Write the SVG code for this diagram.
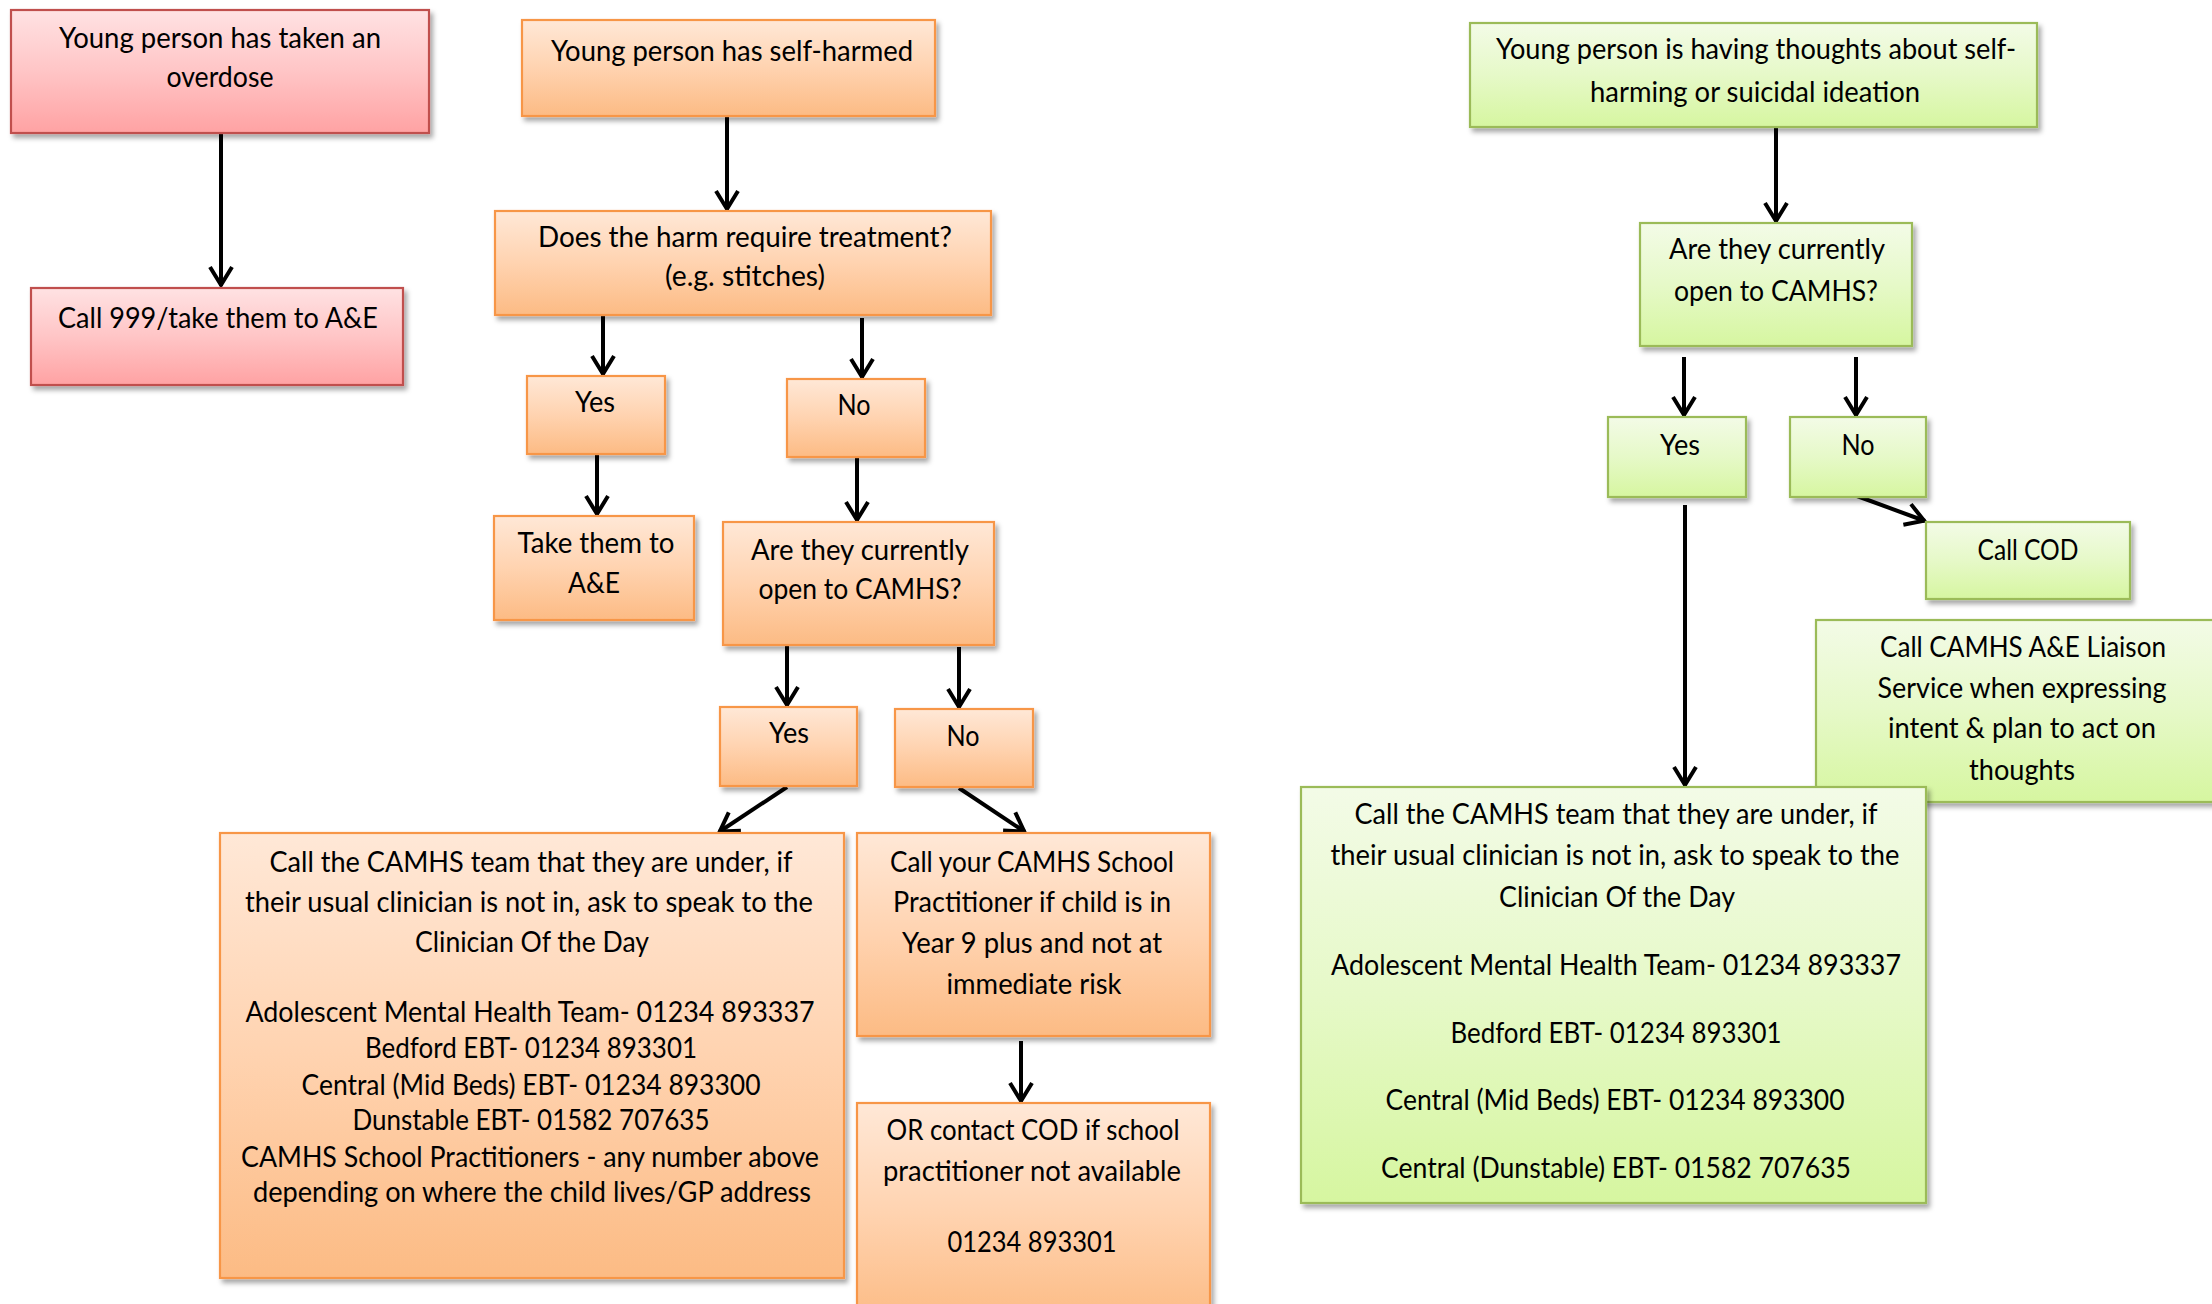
<svg xmlns="http://www.w3.org/2000/svg" width="2212" height="1304" viewBox="0 0 2212 1304">
<style>
.t{font-family:Lato,"Open Sans","Liberation Sans",sans-serif;font-size:28px;fill:#000;text-anchor:middle}
.box{filter:url(#sh);stroke-width:2.2}
.red{fill:url(#gRed);stroke:#C0504D}
.org{fill:url(#gOrg);stroke:#F79646}
.grn{fill:url(#gGrn);stroke:#9BBB59}
.c{stroke:#000;stroke-width:4;fill:none;marker-end:url(#ah)}
</style>
<defs>
<linearGradient id="gRed" x1="0" y1="0" x2="0" y2="1"><stop offset="0" stop-color="#FFE2E3"/><stop offset="0.5" stop-color="#FFC5C6"/><stop offset="1" stop-color="#FFA2A3"/></linearGradient>
<linearGradient id="gOrg" x1="0" y1="0" x2="0" y2="1"><stop offset="0" stop-color="#FFE8D7"/><stop offset="0.5" stop-color="#FFD3B0"/><stop offset="1" stop-color="#FCBB84"/></linearGradient>
<linearGradient id="gGrn" x1="0" y1="0" x2="0" y2="1"><stop offset="0" stop-color="#F3FBE7"/><stop offset="0.5" stop-color="#E6F9C8"/><stop offset="1" stop-color="#D6F6A0"/></linearGradient>
<filter id="sh" x="-5%" y="-5%" width="115%" height="120%"><feDropShadow dx="3" dy="4" stdDeviation="2.5" flood-color="#000" flood-opacity="0.35"/></filter>
<marker id="ah" viewBox="-24 -14 28 28" refX="0" refY="0" markerWidth="28" markerHeight="28" markerUnits="userSpaceOnUse" orient="auto"><path d="M-19,-11 L-1,0 L-19,11" fill="none" stroke="#000" stroke-width="4"/></marker>
</defs>

<g id="connectors">
<line class="c" x1="221" y1="133" x2="221" y2="286"/>
<line class="c" x1="727" y1="116" x2="727" y2="210"/>
<line class="c" x1="603" y1="315" x2="603" y2="375"/>
<line class="c" x1="862" y1="318" x2="862" y2="378"/>
<line class="c" x1="597" y1="455" x2="597" y2="515"/>
<line class="c" x1="857" y1="458" x2="857" y2="521"/>
<line class="c" x1="787" y1="645" x2="787" y2="706"/>
<line class="c" x1="959" y1="647" x2="959" y2="708"/>
<line class="c" x1="787" y1="787" x2="719" y2="832"/>
<line class="c" x1="959" y1="788" x2="1025" y2="832"/>
<line class="c" x1="1021" y1="1041" x2="1021" y2="1102"/>
<line class="c" x1="1776" y1="127" x2="1776" y2="222"/>
<line class="c" x1="1684" y1="357" x2="1684" y2="416"/>
<line class="c" x1="1856" y1="357" x2="1856" y2="416"/>
<line class="c" x1="1857" y1="496" x2="1925" y2="521"/>
<line class="c" x1="1685" y1="505" x2="1685" y2="786"/>
</g>

<g id="n-overdose"><rect class="box red" x="11" y="10" width="418" height="123"/>
<text class="t" x="220" y="48" textLength="322" lengthAdjust="spacingAndGlyphs">Young person has taken an</text>
<text class="t" x="220" y="87" textLength="107" lengthAdjust="spacingAndGlyphs">overdose</text></g>

<g id="n-call999"><rect class="box red" x="31" y="288" width="372" height="97"/>
<text class="t" x="218" y="328" textLength="320" lengthAdjust="spacingAndGlyphs">Call 999/take them to A&amp;E</text></g>

<g id="n-selfharmed"><rect class="box org" x="522" y="20" width="413" height="96"/>
<text class="t" x="732" y="61" textLength="362" lengthAdjust="spacingAndGlyphs">Young person has self-harmed</text></g>

<g id="n-treatment"><rect class="box org" x="495" y="211" width="496" height="104"/>
<text class="t" x="745" y="247" textLength="414" lengthAdjust="spacingAndGlyphs">Does the harm require treatment?</text>
<text class="t" x="745" y="286" textLength="160" lengthAdjust="spacingAndGlyphs">(e.g. stitches)</text></g>

<g id="n-yes1"><rect class="box org" x="527" y="376" width="138" height="78"/>
<text class="t" x="595" y="412" textLength="40" lengthAdjust="spacingAndGlyphs">Yes</text></g>

<g id="n-no1"><rect class="box org" x="787" y="379" width="138" height="78"/>
<text class="t" x="854" y="415" textLength="33" lengthAdjust="spacingAndGlyphs">No</text></g>

<g id="n-take"><rect class="box org" x="494" y="516" width="200" height="104"/>
<text class="t" x="596" y="553" textLength="157" lengthAdjust="spacingAndGlyphs">Take them to</text>
<text class="t" x="594" y="593" textLength="52" lengthAdjust="spacingAndGlyphs">A&amp;E</text></g>

<g id="n-open1"><rect class="box org" x="723" y="522" width="271" height="123"/>
<text class="t" x="860" y="560" textLength="218" lengthAdjust="spacingAndGlyphs">Are they currently</text>
<text class="t" x="860" y="599" textLength="203" lengthAdjust="spacingAndGlyphs">open to CAMHS?</text></g>

<g id="n-yes2"><rect class="box org" x="720" y="707" width="137" height="79"/>
<text class="t" x="789" y="743" textLength="40" lengthAdjust="spacingAndGlyphs">Yes</text></g>

<g id="n-no2"><rect class="box org" x="895" y="709" width="138" height="78"/>
<text class="t" x="963" y="746" textLength="33" lengthAdjust="spacingAndGlyphs">No</text></g>

<g id="n-camhs-team-orange"><rect class="box org" x="220" y="833" width="624" height="445"/>
<text class="t" x="531" y="872" textLength="523" lengthAdjust="spacingAndGlyphs">Call the CAMHS team that they are under, if</text>
<text class="t" x="529" y="912" textLength="568" lengthAdjust="spacingAndGlyphs">their usual clinician is not in, ask to speak to the</text>
<text class="t" x="532" y="952" textLength="234" lengthAdjust="spacingAndGlyphs">Clinician Of the Day</text>
<text class="t" x="530" y="1022" textLength="569" lengthAdjust="spacingAndGlyphs">Adolescent Mental Health Team- 01234 893337</text>
<text class="t" x="531" y="1058" textLength="332" lengthAdjust="spacingAndGlyphs">Bedford EBT- 01234 893301</text>
<text class="t" x="531" y="1095" textLength="459" lengthAdjust="spacingAndGlyphs">Central (Mid Beds) EBT- 01234 893300</text>
<text class="t" x="531" y="1130" textLength="357" lengthAdjust="spacingAndGlyphs">Dunstable EBT- 01582 707635</text>
<text class="t" x="530" y="1167" textLength="578" lengthAdjust="spacingAndGlyphs">CAMHS School Practitioners - any number above</text>
<text class="t" x="532" y="1202" textLength="558" lengthAdjust="spacingAndGlyphs">depending on where the child lives/GP address</text></g>

<g id="n-school-practitioner"><rect class="box org" x="857" y="833" width="353" height="203"/>
<text class="t" x="1032" y="872" textLength="284" lengthAdjust="spacingAndGlyphs">Call your CAMHS School</text>
<text class="t" x="1032" y="912" textLength="278" lengthAdjust="spacingAndGlyphs">Practitioner if child is in</text>
<text class="t" x="1032" y="953" textLength="260" lengthAdjust="spacingAndGlyphs">Year 9 plus and not at</text>
<text class="t" x="1034" y="994" textLength="175" lengthAdjust="spacingAndGlyphs">immediate risk</text></g>

<g id="n-contact-cod"><rect class="box org" x="857" y="1103" width="353" height="220"/>
<text class="t" x="1033" y="1140" textLength="293" lengthAdjust="spacingAndGlyphs">OR contact COD if school</text>
<text class="t" x="1032" y="1181" textLength="298" lengthAdjust="spacingAndGlyphs">practitioner not available</text>
<text class="t" x="1032" y="1252" textLength="169" lengthAdjust="spacingAndGlyphs">01234 893301</text></g>

<g id="n-thoughts"><rect class="box grn" x="1470" y="23" width="567" height="104"/>
<text class="t" x="1756" y="59" textLength="520" lengthAdjust="spacingAndGlyphs">Young person is having thoughts about self-</text>
<text class="t" x="1755" y="102" textLength="330" lengthAdjust="spacingAndGlyphs">harming or suicidal ideation</text></g>

<g id="n-open2"><rect class="box grn" x="1640" y="223" width="272" height="123"/>
<text class="t" x="1777" y="259" textLength="216" lengthAdjust="spacingAndGlyphs">Are they currently</text>
<text class="t" x="1776" y="301" textLength="204" lengthAdjust="spacingAndGlyphs">open to CAMHS?</text></g>

<g id="n-yes3"><rect class="box grn" x="1608" y="417" width="138" height="80"/>
<text class="t" x="1680" y="455" textLength="40" lengthAdjust="spacingAndGlyphs">Yes</text></g>

<g id="n-no3"><rect class="box grn" x="1790" y="417" width="136" height="80"/>
<text class="t" x="1858" y="455" textLength="33" lengthAdjust="spacingAndGlyphs">No</text></g>

<g id="n-callcod"><rect class="box grn" x="1926" y="522" width="204" height="77"/>
<text class="t" x="2028" y="560" textLength="101" lengthAdjust="spacingAndGlyphs">Call COD</text></g>

<g id="n-liaison"><rect class="box grn" x="1816" y="620" width="410" height="182"/>
<text class="t" x="2023" y="657" textLength="286" lengthAdjust="spacingAndGlyphs">Call CAMHS A&amp;E Liaison</text>
<text class="t" x="2022" y="698" textLength="289" lengthAdjust="spacingAndGlyphs">Service when expressing</text>
<text class="t" x="2022" y="738" textLength="268" lengthAdjust="spacingAndGlyphs">intent &amp; plan to act on</text>
<text class="t" x="2022" y="780" textLength="106" lengthAdjust="spacingAndGlyphs">thoughts</text></g>

<g id="n-camhs-team-green"><rect class="box grn" x="1301" y="787" width="625" height="416"/>
<text class="t" x="1616" y="824" textLength="523" lengthAdjust="spacingAndGlyphs">Call the CAMHS team that they are under, if</text>
<text class="t" x="1615" y="865" textLength="569" lengthAdjust="spacingAndGlyphs">their usual clinician is not in, ask to speak to the</text>
<text class="t" x="1617" y="907" textLength="236" lengthAdjust="spacingAndGlyphs">Clinician Of the Day</text>
<text class="t" x="1616" y="975" textLength="570" lengthAdjust="spacingAndGlyphs">Adolescent Mental Health Team- 01234 893337</text>
<text class="t" x="1616" y="1043" textLength="331" lengthAdjust="spacingAndGlyphs">Bedford EBT- 01234 893301</text>
<text class="t" x="1615" y="1110" textLength="459" lengthAdjust="spacingAndGlyphs">Central (Mid Beds) EBT- 01234 893300</text>
<text class="t" x="1616" y="1178" textLength="470" lengthAdjust="spacingAndGlyphs">Central (Dunstable) EBT- 01582 707635</text></g>
</svg>
